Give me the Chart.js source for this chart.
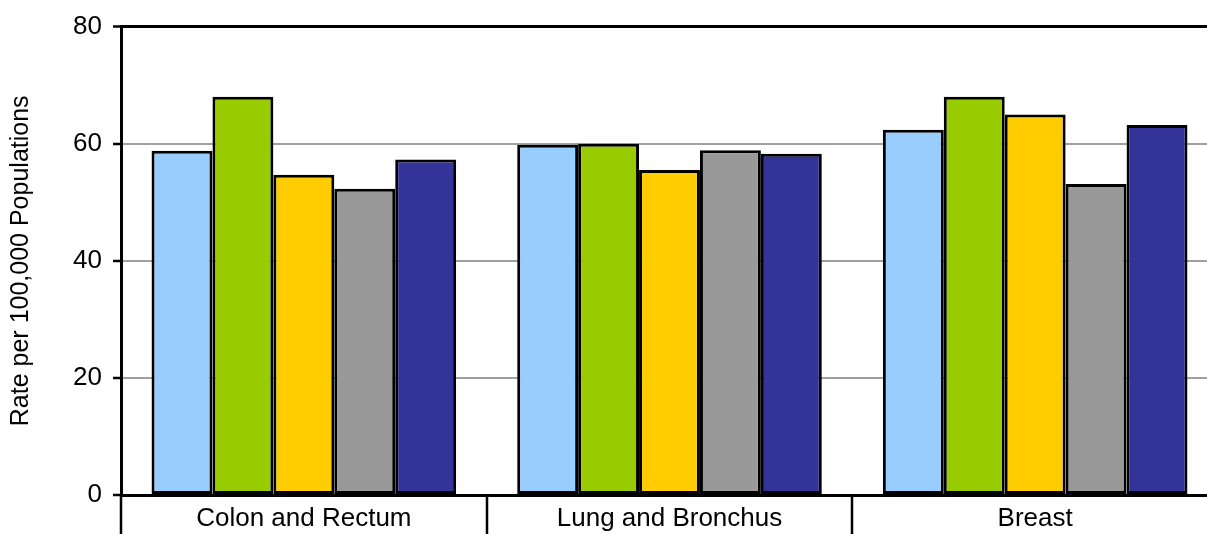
<!DOCTYPE html>
<html>
<head>
<meta charset="utf-8">
<script src="https://cdn.jsdelivr.net/npm/chart.js@4/dist/chart.umd.min.js"></script>
<style>
  html, body { margin: 0; padding: 0; background: #fff; overflow: hidden; }
  #wrap { width: 1218px; height: 534px; }
</style>
</head>
<body>
<div id="wrap"><canvas id="grafico" width="1218" height="534"></canvas></div>
<script>
// categorias e valores (taxa por 100.000)
var categorias = ["Colon and Rectum", "Lung and Bronchus", "Breast"];
var serie1 = [58.8, 59.8, 62.4];
var serie2 = [68.0, 60.0, 68.0];
var serie3 = [54.7, 55.5, 65.0];
var serie4 = [52.3, 58.9, 53.1];
var serie5 = [57.3, 58.3, 63.2];
var cores = ["#99CCFF", "#99CC00", "#FFCC00", "#999999", "#333399"];
var yTicks = [0, 20, 40, 60, 80];

var fonte = "Arial, 'Liberation Sans', sans-serif";

// linhas de separação das categorias por baixo do eixo
var divisores = {
    id: 'divisores',
    afterDraw: function (chart) {
        var ctx = chart.ctx;
        var x = chart.scales.x;
        var n = categorias.length;
        var passo = (x.right - x.left) / n;
        ctx.save();
        ctx.strokeStyle = '#000';
        ctx.lineWidth = 2.5;
        for (var i = 0; i <= n; i++) {
            var px = Math.round(x.left + i * passo);
            ctx.beginPath();
            ctx.moveTo(px, x.top);
            ctx.lineTo(px, chart.height);
            ctx.stroke();
        }
        ctx.restore();
    }
};

var series = [serie1, serie2, serie3, serie4, serie5];
var datasets = series.map(function (s, i) {
    return {
        label: 'Série ' + (i + 1),
        data: s,
        backgroundColor: cores[i],
        borderColor: '#000',
        borderWidth: 3,
        borderSkipped: false
    };
});

new Chart(document.getElementById('grafico'), {
    type: 'bar',
    data: { labels: categorias, datasets: datasets },
    plugins: [divisores],
    options: {
        responsive: false,
        animation: false,
        devicePixelRatio: 1,
        categoryPercentage: 0.833,
        barPercentage: 1.0,
        layout: { padding: { top: 25, right: 0, left: 0, bottom: 0 } },
        plugins: {
            legend: { display: false },
            tooltip: { enabled: false }
        },
        scales: {
            x: {
                grid: { display: false, drawTicks: false },
                border: { display: true, color: '#000', width: 3 },
                ticks: {
                    color: '#000',
                    font: { family: fonte, size: 26 },
                    padding: 8,
                    maxRotation: 0
                },
                afterFit: function (scale) { scale.height = 39; }
            },
            y: {
                min: 0,
                max: 80,
                afterBuildTicks: function (scale) {
                    scale.ticks = yTicks.map(function (v) { return { value: v }; });
                },
                grid: {
                    color: function (c) { return c.tick && c.tick.value === 80 ? '#000' : '#A0A0A0'; },
                    lineWidth: function (c) { return c.tick && c.tick.value === 80 ? 3 : 2; },
                    tickColor: '#000',
                    tickWidth: 2.5,
                    tickLength: 8
                },
                border: { display: true, color: '#000', width: 3 },
                ticks: {
                    color: '#000',
                    font: { family: fonte, size: 26 },
                    padding: 11
                },
                title: {
                    display: true,
                    text: 'Rate per 100,000 Populations',
                    color: '#000',
                    font: { family: fonte, size: 25 },
                    padding: { top: 6, bottom: 0 }
                },
                afterFit: function (scale) { scale.width = 121; }
            }
        }
    }
});
</script>
</body>
</html>
